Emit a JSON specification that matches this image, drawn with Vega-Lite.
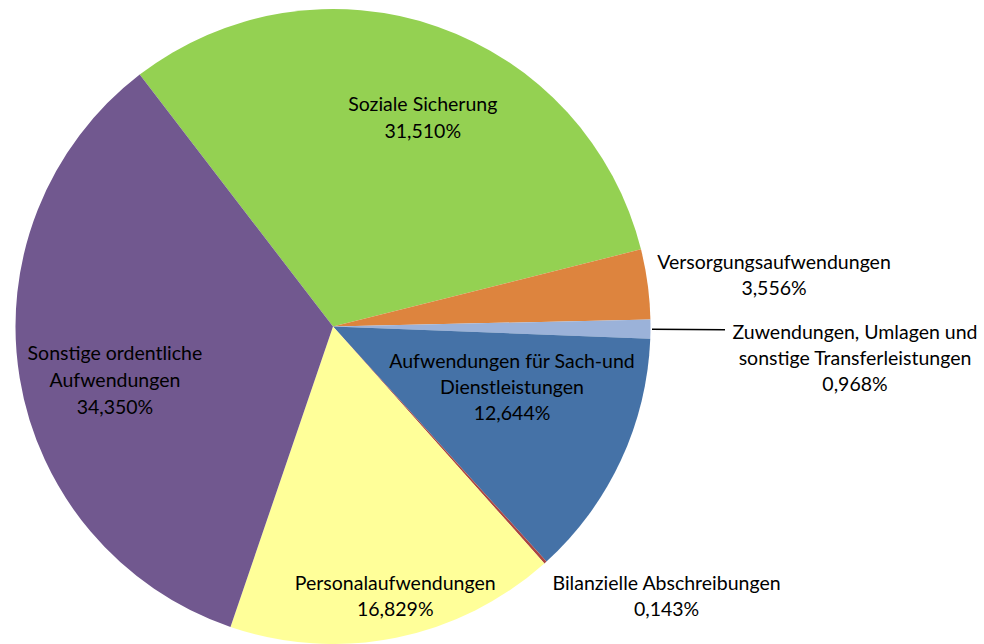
{
  "$schema": "https://vega.github.io/schema/vega-lite/v6.json",
  "autosize": "none",
  "width": 666,
  "height": 635,
  "padding": {"left": 0, "top": 9, "right": 318, "bottom": 0},
  "background": "white",
  "config": {"view": {"stroke": null}},
  "data": {
    "values": [
      {"rank": 1, "category": "Soziale Sicherung", "value": 31.51, "label": "Soziale Sicherung\n31,510%"},
      {"rank": 2, "category": "Versorgungsaufwendungen", "value": 3.556, "label": "Versorgungsaufwendungen\n3,556%"},
      {"rank": 3, "category": "Zuwendungen, Umlagen und sonstige Transferleistungen", "value": 0.968, "label": "Zuwendungen, Umlagen und\nsonstige Transferleistungen\n0,968%"},
      {"rank": 4, "category": "Aufwendungen für Sach-und Dienstleistungen", "value": 12.644, "label": "Aufwendungen für Sach-und\nDienstleistungen\n12,644%"},
      {"rank": 5, "category": "Bilanzielle Abschreibungen", "value": 0.143, "label": "Bilanzielle Abschreibungen\n0,143%"},
      {"rank": 6, "category": "Personalaufwendungen", "value": 16.829, "label": "Personalaufwendungen\n16,829%"},
      {"rank": 7, "category": "Sonstige ordentliche Aufwendungen", "value": 34.35, "label": "Sonstige ordentliche\nAufwendungen\n34,350%"}
    ]
  },
  "layer": [
    {
      "mark": {"type": "arc"},
      "encoding": {
        "theta": {"field": "value", "type": "quantitative", "stack": true, "scale": {"range": [-0.6545, 5.6287]}},
        "order": {"field": "rank", "type": "quantitative"},
        "color": {
          "field": "category", "type": "nominal", "legend": null,
          "scale": {
            "domain": ["Soziale Sicherung", "Versorgungsaufwendungen", "Zuwendungen, Umlagen und sonstige Transferleistungen", "Aufwendungen für Sach-und Dienstleistungen", "Bilanzielle Abschreibungen", "Personalaufwendungen", "Sonstige ordentliche Aufwendungen"],
            "range": ["#94D152", "#DD843E", "#9BB2D9", "#4572A7", "#AA4643", "#FFFF99", "#71588F"]
          }
        }
      }
    },
    {
      "mark": {"type": "arc", "innerRadius": 319, "outerRadius": 392, "padAngle": 0.2, "fill": null, "filled": false, "stroke": "black", "strokeWidth": 1.5},
      "encoding": {
        "theta": {"field": "value", "type": "quantitative", "stack": true},
        "order": {"field": "rank", "type": "quantitative"},
        "strokeOpacity": {"condition": {"test": "datum.rank === 3", "value": 1}, "value": 0}
      }
    },
    {
      "mark": {"type": "text", "radius": 221, "dx": 17, "dy": -13, "font": "Lato", "fontSize": 19.5, "lineHeight": 27, "lineBreak": "\n", "color": "black", "align": "center", "baseline": "middle"},
      "encoding": {
        "theta": {"field": "value", "type": "quantitative", "stack": true},
        "order": {"field": "rank", "type": "quantitative"},
        "text": {"condition": {"test": "datum.rank === 1", "field": "label"}, "value": ""}
      }
    },
    {
      "mark": {"type": "text", "radius": 445, "dx": 0, "dy": -4, "font": "Lato", "fontSize": 19.5, "lineHeight": 26, "lineBreak": "\n", "color": "black", "align": "center", "baseline": "middle"},
      "encoding": {
        "theta": {"field": "value", "type": "quantitative", "stack": true},
        "order": {"field": "rank", "type": "quantitative"},
        "text": {"condition": {"test": "datum.rank === 2", "field": "label"}, "value": ""}
      }
    },
    {
      "mark": {"type": "text", "radius": 522, "dx": 0, "dy": 2, "font": "Lato", "fontSize": 19.5, "lineHeight": 26, "lineBreak": "\n", "color": "black", "align": "center", "baseline": "middle"},
      "encoding": {
        "theta": {"field": "value", "type": "quantitative", "stack": true},
        "order": {"field": "rank", "type": "quantitative"},
        "text": {"condition": {"test": "datum.rank === 3", "field": "label"}, "value": ""}
      }
    },
    {
      "mark": {"type": "text", "radius": 197.5, "dx": 0, "dy": -48, "font": "Lato", "fontSize": 19.5, "lineHeight": 26, "lineBreak": "\n", "color": "black", "align": "center", "baseline": "middle"},
      "encoding": {
        "theta": {"field": "value", "type": "quantitative", "stack": true},
        "order": {"field": "rank", "type": "quantitative"},
        "text": {"condition": {"test": "datum.rank === 4", "field": "label"}, "value": ""}
      }
    },
    {
      "mark": {"type": "text", "radius": 361, "dx": 92, "dy": -11, "font": "Lato", "fontSize": 19.5, "lineHeight": 26, "lineBreak": "\n", "color": "black", "align": "center", "baseline": "middle"},
      "encoding": {
        "theta": {"field": "value", "type": "quantitative", "stack": true},
        "order": {"field": "rank", "type": "quantitative"},
        "text": {"condition": {"test": "datum.rank === 5", "field": "label"}, "value": ""}
      }
    },
    {
      "mark": {"type": "text", "radius": 273, "dx": 8, "dy": -10, "font": "Lato", "fontSize": 19.5, "lineHeight": 26, "lineBreak": "\n", "color": "black", "align": "center", "baseline": "middle"},
      "encoding": {
        "theta": {"field": "value", "type": "quantitative", "stack": true},
        "order": {"field": "rank", "type": "quantitative"},
        "text": {"condition": {"test": "datum.rank === 6", "field": "label"}, "value": ""}
      }
    },
    {
      "mark": {"type": "text", "radius": 221, "dx": 0, "dy": -8, "font": "Lato", "fontSize": 19.5, "lineHeight": 27, "lineBreak": "\n", "color": "black", "align": "center", "baseline": "middle"},
      "encoding": {
        "theta": {"field": "value", "type": "quantitative", "stack": true},
        "order": {"field": "rank", "type": "quantitative"},
        "text": {"condition": {"test": "datum.rank === 7", "field": "label"}, "value": ""}
      }
    }
  ]
}
